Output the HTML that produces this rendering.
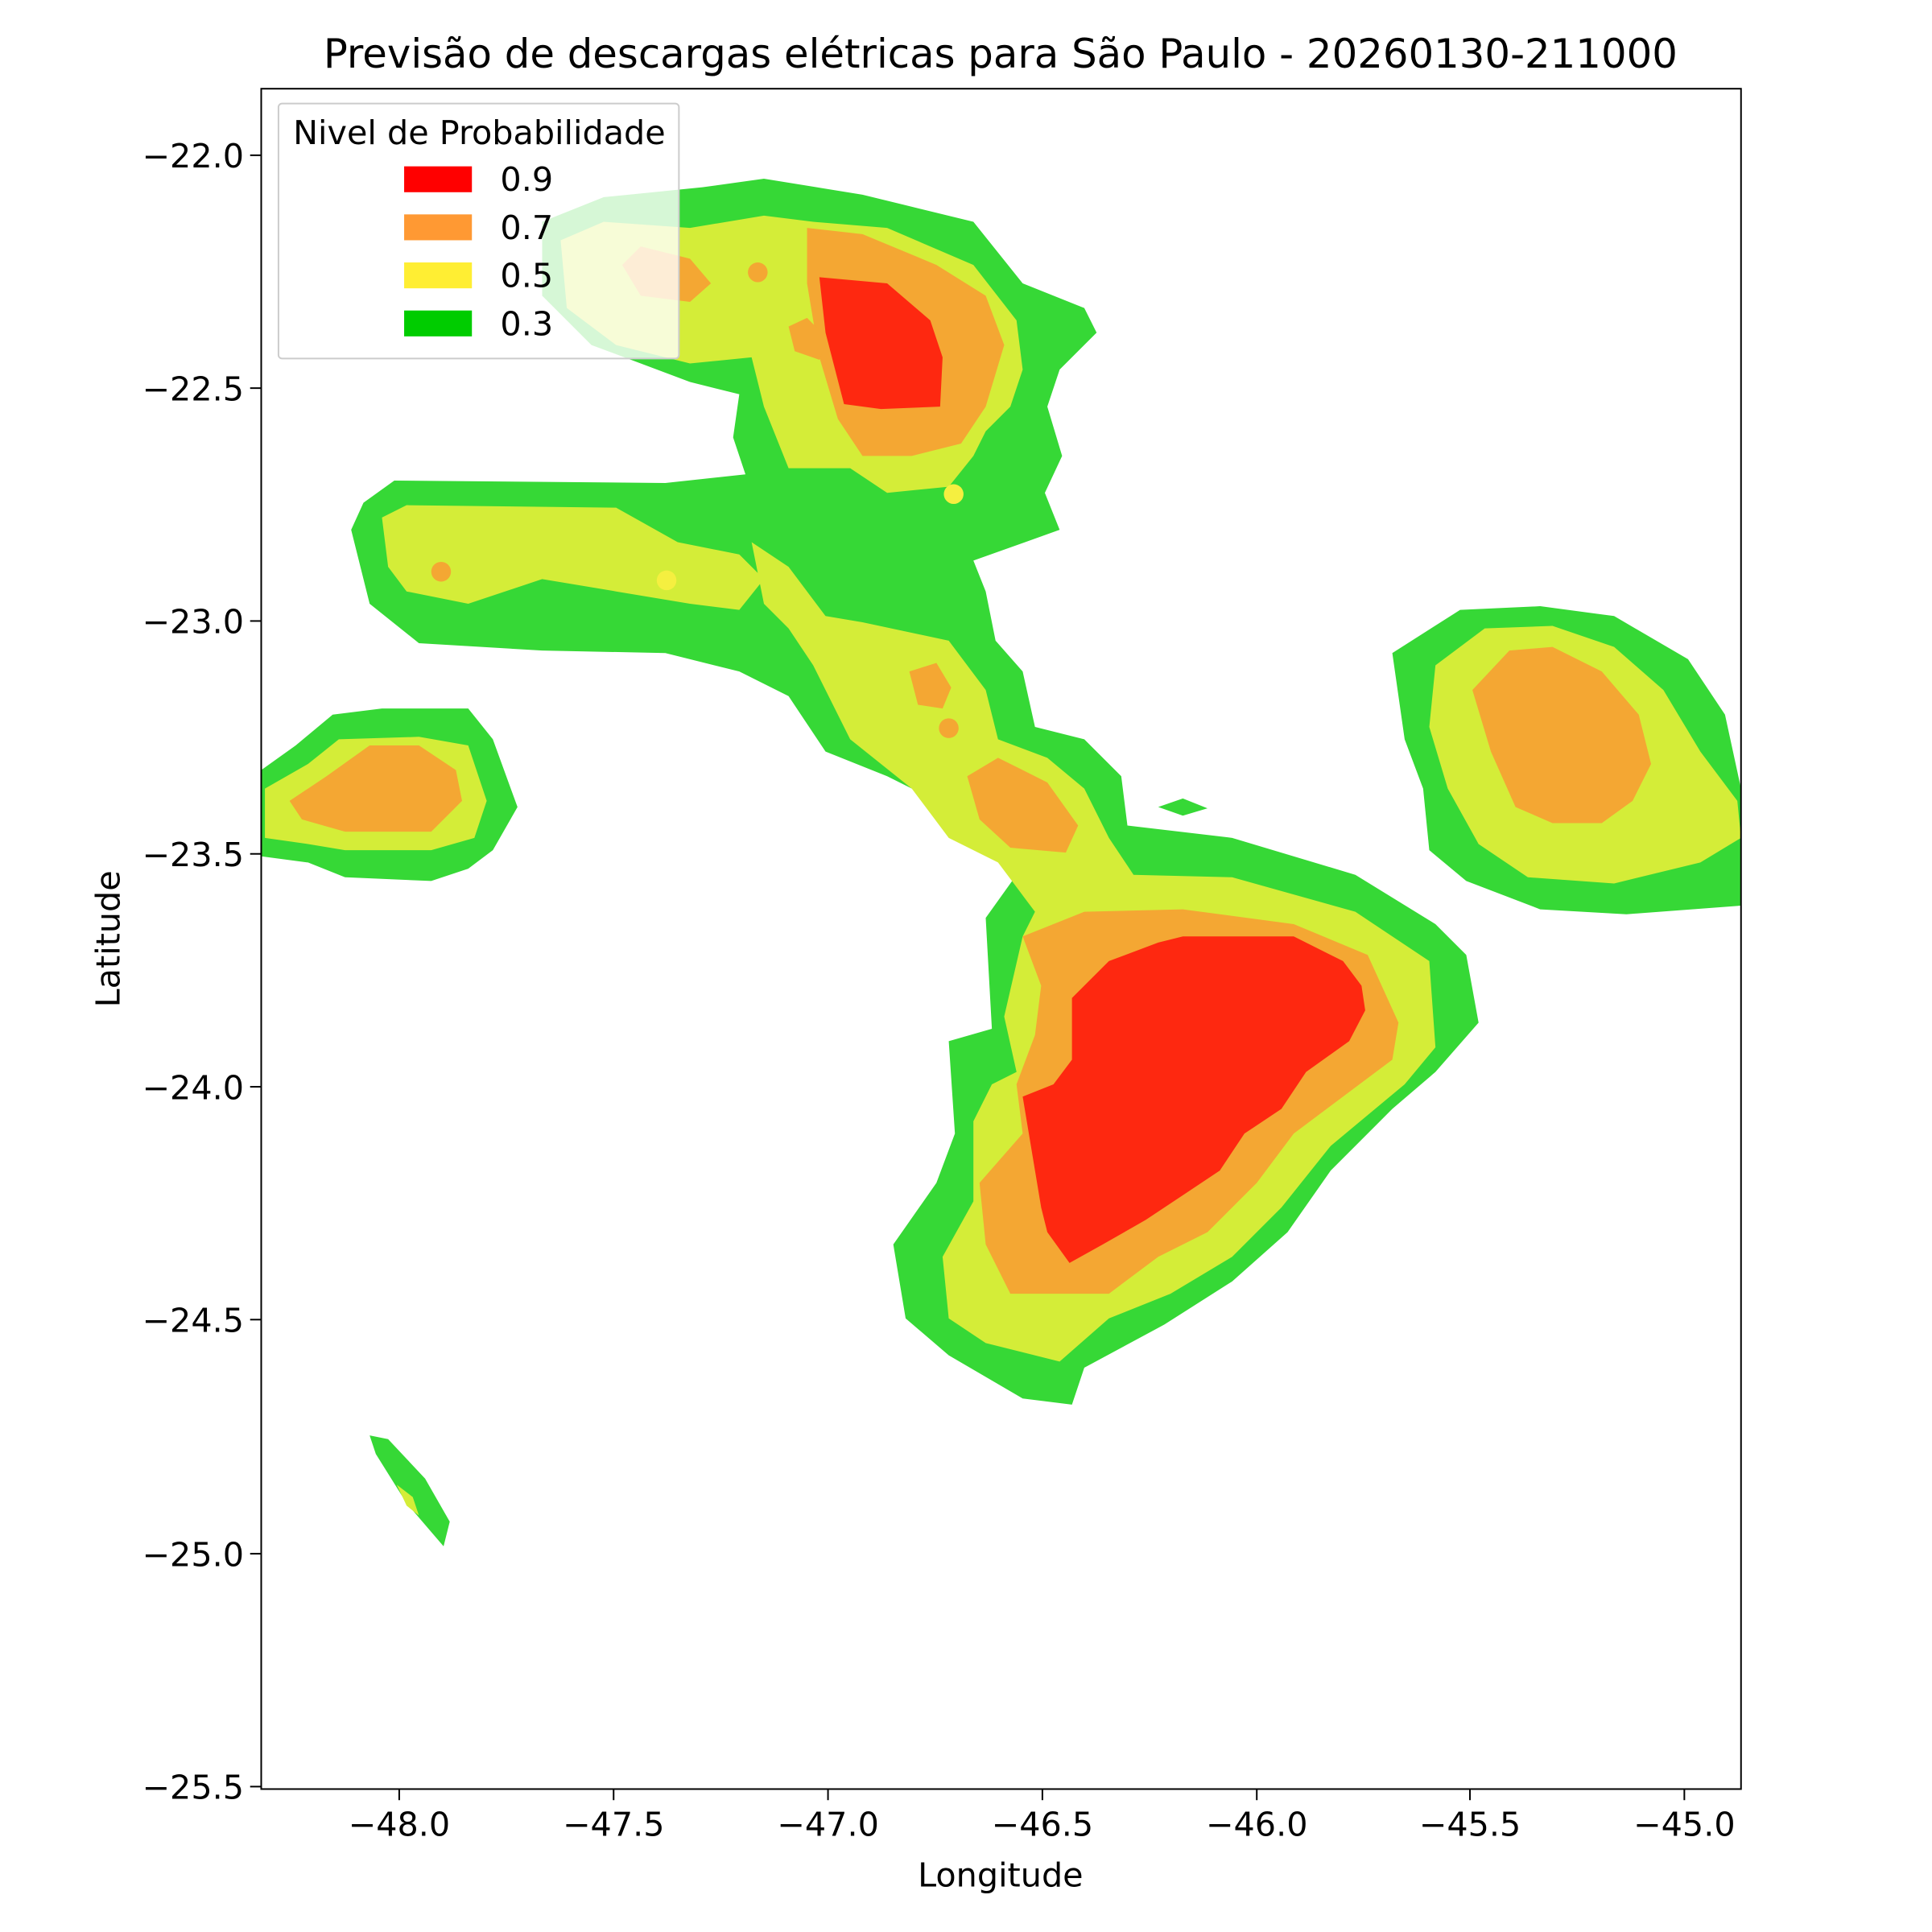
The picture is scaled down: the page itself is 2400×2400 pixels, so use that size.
<!DOCTYPE html>
<html><head><meta charset="utf-8"><style>html,body{margin:0;padding:0;background:#fff}svg{display:block}</style></head>
<body>
<svg width="2400" height="2400" viewBox="0 0 1568 1568" xmlns="http://www.w3.org/2000/svg" font-family="'DejaVu Sans','Liberation Sans',sans-serif">
<rect width="1568" height="1568" fill="#fff"/>
<defs><clipPath id="c"><rect x="212" y="72" width="1201" height="1380"/></clipPath></defs>
<g clip-path="url(#c)">
<g fill="#36d836">
<polygon points="440,180 490,160 570,152 620,145 700,158 790,180 830,230 880,250 890,270 860,300 850,330 862,370 848,400 860,430 790,455 800,480 808,520 830,545 840,590 880,600 910,630 915,670 1000,680 1100,710 1165,750 1190,775 1200,830 1165,870 1130,900 1080,950 1045,1000 1000,1040 945,1075 880,1110 870,1140 830,1135 770,1100 735,1070 725,1010 760,960 775,920 770,845 805,835 800,745 825,710 780,660 720,630 670,610 640,565 600,545 540,530 440,528 340,522 300,490 285,430 295,408 320,390 540,392 605,385 595,355 600,320 560,310 480,280 440,240"/>
<polygon points="212,625 240,605 270,580 310,575 380,575 400,600 420,655 400,690 380,705 350,715 280,712 250,700 212,695"/>
<polygon points="1130,530 1185,495 1250,492 1310,500 1370,535 1400,580 1413,640 1413,735 1320,742 1250,738 1190,715 1160,690 1155,640 1140,600"/>
<polygon points="300,1165 315,1168 345,1200 365,1235 360,1255 330,1220 305,1180"/>
<polygon points="940,655 960,648 980,656 960,662"/>
</g>
<g fill="#d4ed38">
<polygon points="455,195 490,180 560,185 620,175 660,180 720,185 790,215 825,260 830,300 820,330 800,350 790,370 770,395 720,400 690,380 640,380 620,330 610,290 560,295 500,280 460,250"/>
<polygon points="310,420 330,410 500,412 550,440 600,450 620,470 600,495 560,490 500,480 440,470 380,490 330,480 315,460"/>
<polygon points="610,440 640,460 670,500 700,505 770,520 800,560 810,600 850,615 880,640 900,680 920,710 1000,712 1100,740 1160,780 1165,850 1140,880 1080,930 1040,980 1000,1020 950,1050 900,1070 860,1105 800,1090 770,1070 765,1020 790,975 790,910 805,880 825,870 815,825 830,760 840,740 810,700 770,680 740,640 690,600 660,540 640,510 620,490"/>
<polygon points="215,640 250,620 275,600 340,598 380,605 395,650 385,680 350,690 280,690 250,685 215,680"/>
<polygon points="1165,540 1205,510 1260,508 1310,525 1350,560 1380,610 1410,650 1413,680 1380,700 1310,717 1240,712 1200,685 1175,640 1160,590"/>
<polygon points="322,1205 335,1215 340,1230 330,1222"/>
<circle cx="774" cy="401" r="8" fill="#f5ef40"/>
<circle cx="541" cy="471" r="8" fill="#f5ef40"/>
</g>
<g fill="#f4a733">
<polygon points="655,185 700,190 760,215 800,240 815,280 800,330 780,360 740,370 700,370 680,340 665,290 655,230"/>
<polygon points="505,215 520,200 560,210 577,230 560,245 520,240"/>
<polygon points="640,265 655,258 672,275 665,292 645,285"/>
<circle cx="615" cy="221" r="8"/>
<circle cx="358" cy="464" r="8"/>
<circle cx="770" cy="591" r="8"/>
<polygon points="738,545 760,538 772,558 765,575 745,572"/>
<polygon points="785,630 810,615 850,635 875,670 865,692 820,688 795,665"/>
<polygon points="830,760 880,740 960,738 1050,750 1110,775 1135,830 1130,860 1090,890 1050,920 1020,960 980,1000 940,1020 900,1050 820,1050 800,1010 795,960 830,920 825,880 840,840 845,800"/>
<polygon points="235,650 265,630 300,605 340,605 370,625 375,650 350,675 280,675 245,665"/>
<polygon points="1195,560 1225,528 1260,525 1300,545 1330,580 1340,620 1325,650 1300,668 1260,668 1230,655 1210,610"/>
</g>
<g fill="#fe2810">
<polygon points="870,810 900,780 940,765 960,760 1050,760 1090,780 1105,800 1108,820 1095,845 1060,870 1040,900 1010,920 990,950 960,970 930,990 895,1010 868,1025 850,1000 845,980 830,890 855,880 870,860"/>
<polygon points="665,225 720,230 755,260 765,290 763,330 715,332 685,328 670,270"/>
</g>
</g>
<rect x="212" y="72" width="1201" height="1380" fill="none" stroke="#000" stroke-width="1.3"/>
<g stroke="#000" stroke-width="1.3">
<line x1="324" y1="1452" x2="324" y2="1461"/><line x1="498" y1="1452" x2="498" y2="1461"/><line x1="672" y1="1452" x2="672" y2="1461"/><line x1="846" y1="1452" x2="846" y2="1461"/><line x1="1020" y1="1452" x2="1020" y2="1461"/><line x1="1193" y1="1452" x2="1193" y2="1461"/><line x1="1367" y1="1452" x2="1367" y2="1461"/>
<line x1="203" y1="126" x2="212" y2="126"/><line x1="203" y1="315" x2="212" y2="315"/><line x1="203" y1="504" x2="212" y2="504"/><line x1="203" y1="693" x2="212" y2="693"/><line x1="203" y1="882" x2="212" y2="882"/><line x1="203" y1="1071" x2="212" y2="1071"/><line x1="203" y1="1261" x2="212" y2="1261"/><line x1="203" y1="1450" x2="212" y2="1450"/>
</g>
<g font-size="27" fill="#000" text-anchor="middle">
<text x="324" y="1490">−48.0</text><text x="498" y="1490">−47.5</text><text x="672" y="1490">−47.0</text><text x="846" y="1490">−46.5</text><text x="1020" y="1490">−46.0</text><text x="1193" y="1490">−45.5</text><text x="1367" y="1490">−45.0</text>
</g>
<g font-size="27" fill="#000" text-anchor="end">
<text x="198" y="136">−22.0</text><text x="198" y="325">−22.5</text><text x="198" y="514">−23.0</text><text x="198" y="703">−23.5</text><text x="198" y="892">−24.0</text><text x="198" y="1081">−24.5</text><text x="198" y="1271">−25.0</text><text x="198" y="1460">−25.5</text>
</g>
<text x="812" y="1531" font-size="27" text-anchor="middle">Longitude</text>
<text x="97" y="762" font-size="27" text-anchor="middle" transform="rotate(-90 97 762)">Latitude</text>
<text x="812" y="55" font-size="32.5" text-anchor="middle">Previsão de descargas elétricas para São Paulo - 20260130-211000</text>
<rect x="226" y="84" width="325" height="207" rx="3" fill="#fff" fill-opacity="0.8" stroke="#ccc" stroke-width="1.3"/>
<text x="389" y="117" font-size="27" text-anchor="middle">Nivel de Probabilidade</text>
<rect x="328" y="135" width="55" height="21" fill="#ff0000"/>
<rect x="328" y="174" width="55" height="21" fill="#ff9933"/>
<rect x="328" y="213" width="55" height="21" fill="#ffee33"/>
<rect x="328" y="252" width="55" height="21" fill="#00cc00"/>
<g font-size="27"><text x="406" y="155">0.9</text><text x="406" y="194">0.7</text><text x="406" y="233">0.5</text><text x="406" y="272">0.3</text></g>
</svg>
</body></html>
